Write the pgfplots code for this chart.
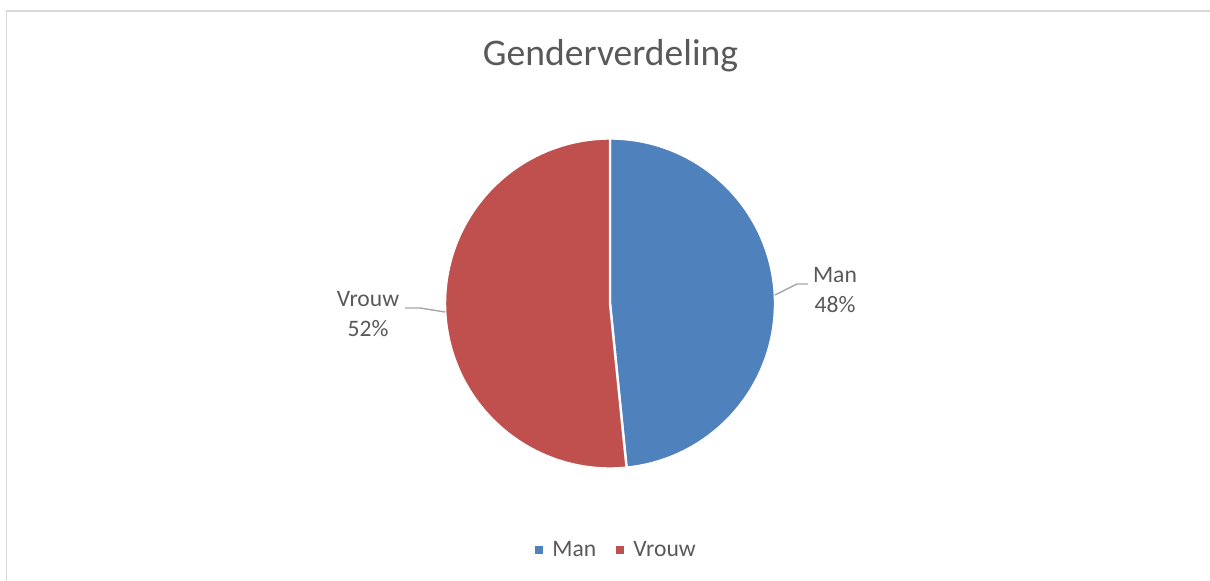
\documentclass[border=0pt]{standalone}
\usepackage{pgfplots}
\usepackage{pgfplotstable}
\pgfplotsset{compat=1.18}
\usepackage{fontspec}
\setmainfont{Carlito}
\definecolor{manblue}{HTML}{4F81BD}
\definecolor{vrouwred}{HTML}{C0504D}
\definecolor{txt}{HTML}{595959}
\definecolor{frame}{HTML}{D9D9D9}
\definecolor{leader}{HTML}{A6A6A6}
\pgfplotstableread{
label value
Man 48.4
Vrouw 51.6
}\genderdata
\pgfplotstablegetelem{0}{value}\of\genderdata
\let\manval\pgfplotsretval
\pgfplotstablegetelem{1}{value}\of\genderdata
\let\vrouwval\pgfplotsretval
\pgfmathsetmacro\manend{90-3.6*\manval}
\pgfmathsetmacro\vrouwend{\manend-3.6*\vrouwval}
\begin{document}
\begin{tikzpicture}
\useasboundingbox (0,0) rectangle (605pt,290.5pt);
\begin{axis}[
  at={(0,0)}, anchor=south west,
  scale only axis, width=605pt, height=290.5pt,
  xmin=0, xmax=1210, ymin=0, ymax=581, y dir=reverse,
  hide axis, clip=false]
\addplot[draw=none] coordinates {(0,0)};
% frame
\draw[frame, line width=0.8pt] (axis cs:6.5,581) -- (axis cs:6.5,11) -- (axis cs:1210,11);
% title
\node[anchor=base, text=txt, inner sep=0pt] at (axis cs:610.5,66) {\fontsize{18.8pt}{22pt}\selectfont Genderverdeling};
% wedges
\fill[manblue, draw=white, line width=1.2pt] (axis cs:610,303.5) -- ++(90:82.5pt) arc[start angle=90, end angle=\manend, radius=82.5pt] -- cycle;
\fill[vrouwred, draw=white, line width=1.2pt] (axis cs:610,303.5) -- ++(\manend:82.5pt) arc[start angle=\manend, end angle=\vrouwend, radius=82.5pt] -- cycle;
% leader lines
\draw[leader, line width=0.7pt] (axis cs:775,295) -- (axis cs:797,284) -- (axis cs:808,284);
\draw[leader, line width=0.7pt] (axis cs:445,312) -- (axis cs:420,308) -- (axis cs:405,308);
% data labels
\begin{scope}[every node/.style={anchor=base, text=txt, inner sep=0pt, font=\fontsize{11.8pt}{14pt}\selectfont}]
\node at (axis cs:835,283) {Man};
\node at (axis cs:835,313) {48\%};
\node at (axis cs:368,307) {Vrouw};
\node at (axis cs:368,337) {52\%};
% legend
\fill[manblue] (axis cs:535,546) rectangle (axis cs:543,554);
\node[anchor=base west] at (axis cs:552,557) {Man};
\fill[vrouwred] (axis cs:616,546) rectangle (axis cs:624,554);
\node[anchor=base west] at (axis cs:633,557) {Vrouw};
\end{scope}
\end{axis}
\end{tikzpicture}
\end{document}
